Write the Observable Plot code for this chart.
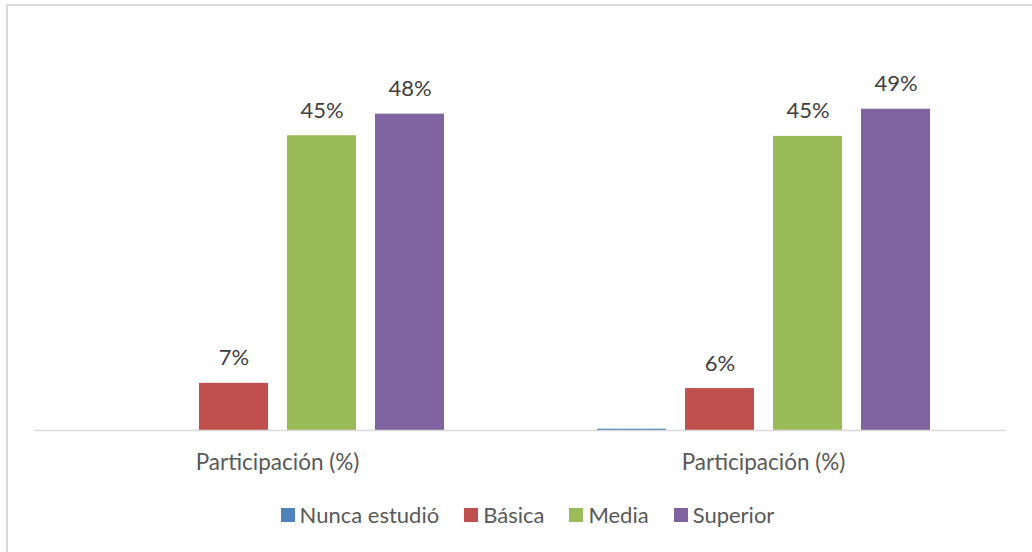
<!DOCTYPE html>
<html><head><meta charset="utf-8">
<script src="https://cdn.jsdelivr.net/npm/d3@7"></script>
<script src="https://cdn.jsdelivr.net/npm/@observablehq/plot@0.6"></script>
<style>
html,body{margin:0;padding:0;background:#fff;overflow:hidden;width:1032px;height:552px;font-family:Lato,"Open Sans",sans-serif;}
#frame{position:absolute;left:6px;top:4px;width:1060px;height:580px;border:2px solid #d9d9d9;box-sizing:border-box;}
#chart{position:absolute;left:0;top:0;}
#legend{position:absolute;top:501px;left:0;width:1055px;display:flex;justify-content:center;gap:25px;font-size:22px;color:#595959;}
#legend .item{display:flex;align-items:center;}
#legend .sw{width:14px;height:14px;margin-right:5px;display:inline-block;}
</style>
</head><body>
<div id="frame"></div>
<div id="chart"></div>
<div id="legend"></div>
<script>
const series = ["Nunca estudió", "Básica", "Media", "Superior"];
const colors = ["#4F81BD", "#C0504D", "#9BBB59", "#8064A2"];
const groupLabels = ["Participación (%)", "Participación (%)"];
const group1Values = [0, 7.2, 45.0, 48.3];
const group2Values = [0.2, 6.4, 44.9, 49.05];

const groupValues = [group1Values, group2Values];
const data = [];
groupValues.forEach((vals, g) => vals.forEach((v, i) => data.push({group: g, series: series[i], value: v})));

const chart = Plot.plot({
  width: 1032,
  height: 480,
  marginLeft: 34,
  marginRight: 26,
  marginTop: 37,
  marginBottom: 50,
  style: {fontFamily: "Lato, 'Open Sans', sans-serif", fontSize: "22.5px", color: "#595959", background: "transparent"},
  fx: {domain: [0, 1], padding: 0, label: null, tickFormat: i => groupLabels[i], tickSize: 0, tickPadding: 24},
  x: {domain: series, paddingInner: 0.216, paddingOuter: 0.848, axis: null},
  y: {domain: [0, 60], axis: null},
  color: {domain: series, range: colors},
  marks: [
    Plot.barY(data, {fx: "group", x: "series", y: "value", fill: "series"}),
    Plot.ruleY([0], {stroke: "#d9d9d9", strokeWidth: 1.5}),
    Plot.text(data.filter(d => d.value >= 1), {fx: "group", x: "series", y: "value", text: d => Math.round(d.value) + "%", dy: -25, fill: "#404040", fontSize: 22})
  ]
});
document.getElementById("chart").appendChild(chart);

const legend = document.getElementById("legend");
series.forEach((s, i) => {
  const it = document.createElement("div");
  it.className = "item";
  it.innerHTML = `<span class="sw" style="background:${colors[i]}"></span><span>${s}</span>`;
  legend.appendChild(it);
});
</script>
</body></html>
